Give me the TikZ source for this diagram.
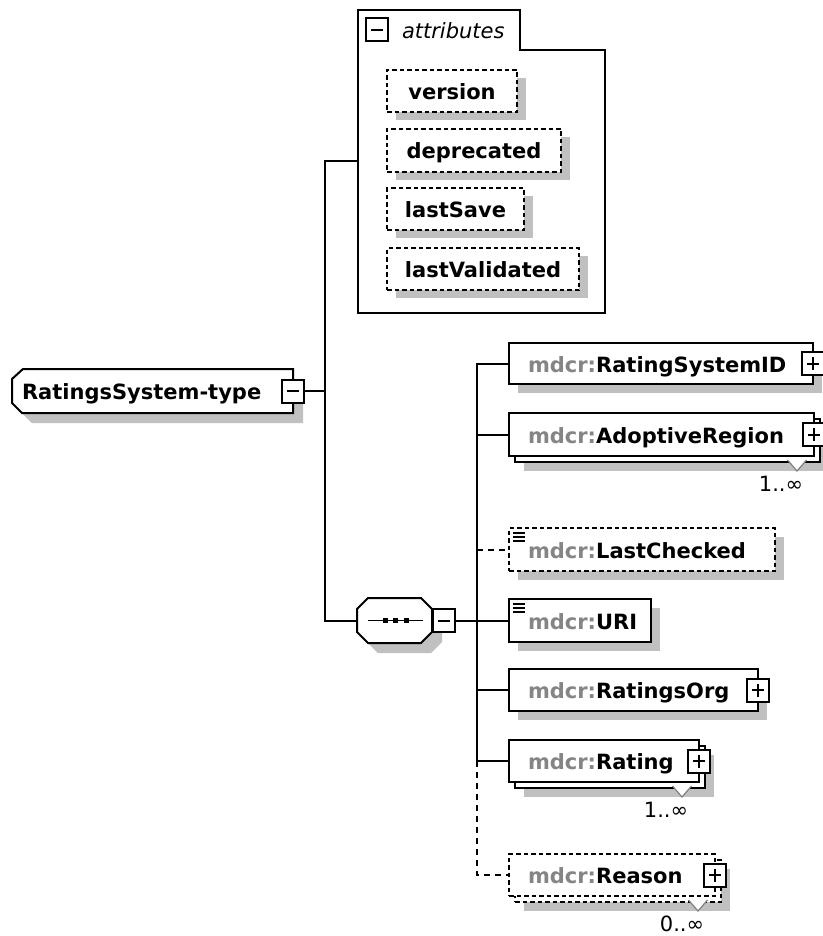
\documentclass[tikz,border=0pt]{standalone}
\usepackage{fontspec}
\setmainfont{DejaVu Sans}
\usetikzlibrary{calc,shadows}

\definecolor{shadowgray}{HTML}{C0C0C0}
\definecolor{prefixgray}{HTML}{858585}
\definecolor{markgray}{HTML}{808080}
\newcommand\pfx[1]{\textcolor{prefixgray}{#1}}

\tikzset{
  every node/.style={outer sep=0pt},
  ln/.style={line width=2pt},
  dsh/.style={dash pattern=on 4.5pt off 3pt},
  wiredsh/.style={dash pattern=on 6pt off 5pt},
  frame/.style={draw, ln, fill=white, inner sep=0pt, anchor=north west},
  hold/.style={inner sep=0pt, anchor=north west},
  shd/.style={general shadow={fill=shadowgray, shadow xshift=9pt, shadow yshift=-9pt}},
  shdattr/.style={general shadow={fill=shadowgray, shadow xshift=9pt, shadow yshift=-8pt}},
  shdbig/.style={general shadow={fill=shadowgray, shadow xshift=10pt, shadow yshift=-10pt}},
  btn/.style={draw, ln, fill=white, inner sep=0pt, minimum width=22pt, minimum height=23pt},
  minusbtn/.style={btn, path picture={
      \draw[ln] ([xshift=5pt]path picture bounding box.west) -- ([xshift=-5pt]path picture bounding box.east);}},
  plusbtn/.style={btn, path picture={
      \draw[ln] ([xshift=5pt]path picture bounding box.west) -- ([xshift=-5pt]path picture bounding box.east);
      \draw[ln] ([yshift=-5pt]path picture bounding box.north) -- ([yshift=5pt]path picture bounding box.south);}},
  lbl/.style={inner sep=0pt, anchor=base west, font=\bfseries\fontsize{21}{24}\selectfont},
  attrlbl/.style={inner sep=0pt, anchor=base, font=\bfseries\fontsize{21}{24}\selectfont},
  mult/.style={inner sep=0pt, anchor=base, font=\fontsize{21}{24}\selectfont},
}

% occurrence mark (small V under a repeated element) and its range text
\newcommand\multmark[2]{%
  \coordinate (#1-v) at ($(#1.south east)+(-17,15)$);
  \fill[white] ($(#1-v)+(-9.5,-11)$) -- (#1-v) -- ($(#1-v)+(9.5,-11)$) -- cycle;
  \draw[markgray, line width=1.2pt] ($(#1-v)+(-9.5,-11)$) -- (#1-v) -- ($(#1-v)+(9.5,-11)$);
  \node[mult] (#1-m) at ($(#1-v)+(-16,20.5)$) {#2};}

% the "simple content" icon in the top left corner of an element box
\newcommand\textmark[1]{%
  \foreach \dy in {5,9,13}
    \draw[line width=1.3pt] ($(#1.north west)+(4,\dy)$) -- ++(12,0);}

\begin{document}
\begin{tikzpicture}[x=1pt,y=-1pt]
  \fill[white] (0,0) rectangle (822,936);
  \useasboundingbox (0,0) rectangle (822,936);

  % ---- complex type ----
  \draw[ln, fill=white, shdbig] (23,369) -- (293,369) -- (293,413) -- (22,413)
        -- (12,403) -- (12,379) -- cycle;
  \node[hold, minimum width=281pt, minimum height=44pt] (main) at (12,369) {};
  \node[lbl] (main-t) at (22,399) {RatingsSystem-type};
  \node[minusbtn] (main-b) at (main.east) {};

  % ---- attribute group ----
  \draw[ln, fill=white] (358,10) -- (520,10) -- (520,50) -- (605,50) -- (605,313)
        -- (358,313) -- cycle;
  \node[hold, minimum width=247pt, minimum height=303pt] (attrs) at (358,10) {};
  \node[minusbtn] (attrs-b) at (377,30) {};
  \node[inner sep=0pt, anchor=base west, font=\itshape\fontsize{21}{24}\selectfont]
       (attrs-t) at (402,39) {attributes};

  \node[frame, dsh, shdattr, minimum width=130pt, minimum height=42pt] (version) at (387,70) {};
  \node[attrlbl] (version-t) at ($(version.center)+(0,8.5)$) {version};
  \node[frame, dsh, shdattr, minimum width=174pt, minimum height=43pt] (deprecated) at (387,129) {};
  \node[attrlbl] (deprecated-t) at ($(deprecated.center)+(0,8.5)$) {deprecated};
  \node[frame, dsh, shdattr, minimum width=137pt, minimum height=42pt] (lastsave) at (387,188) {};
  \node[attrlbl] (lastsave-t) at ($(lastsave.center)+(0,8.5)$) {lastSave};
  \node[frame, dsh, shdattr, minimum width=192pt, minimum height=42pt] (lastvalid) at (387,248) {};
  \node[attrlbl] (lastvalid-t) at ($(lastvalid.center)+(0,8.5)$) {lastValidated};

  % ---- sequence compositor ----
  \draw[ln, fill=white, shdbig] (368,598) -- (421,598) -- (432,609) -- (432,632)
        -- (421,643) -- (368,643) -- (357,632) -- (357,609) -- cycle;
  \node[hold, minimum width=75pt, minimum height=45pt] (seq) at (357,598) {};
  \draw[line width=1.6pt] (368,620.5) -- (423,620.5);
  \foreach \cx in {385,395.5,406}
    \fill (\cx-2.5,618) rectangle ++(5,5);
  \node[minusbtn] (seq-b) at ($(seq.east)+(12,0)$) {};

  % ---- child elements ----
  \node[frame, shd, minimum width=304pt, minimum height=41pt] (rsid) at (509,343) {};
  \node[lbl] (rsid-t) at ($(rsid.west)+(19,8.5)$) {\pfx{mdcr:}RatingSystemID};
  \node[plusbtn] (rsid-b) at (rsid.east) {};

  \node[frame, shd, minimum width=305pt, minimum height=43pt] (adopt-back) at (515,419) {};
  \node[frame, minimum width=305pt, minimum height=43pt] (adopt) at (509,413) {};
  \node[lbl] (adopt-t) at ($(adopt.west)+(19,8.5)$) {\pfx{mdcr:}AdoptiveRegion};
  \node[plusbtn] (adopt-b) at (adopt.east) {};
  \multmark{adopt}{1..∞}

  \node[frame, dsh, shd, minimum width=266pt, minimum height=43pt] (lastchk) at (509,528) {};
  \textmark{lastchk}
  \node[lbl] (lastchk-t) at ($(lastchk.west)+(19,8.5)$) {\pfx{mdcr:}LastChecked};

  \node[frame, shd, minimum width=142pt, minimum height=43pt] (uri) at (509,599) {};
  \textmark{uri}
  \node[lbl] (uri-t) at ($(uri.west)+(19,8.5)$) {\pfx{mdcr:}URI};

  \node[frame, shd, minimum width=249pt, minimum height=42pt] (org) at (509,669) {};
  \node[lbl] (org-t) at ($(org.west)+(19,8.5)$) {\pfx{mdcr:}RatingsOrg};
  \node[plusbtn] (org-b) at (org.east) {};

  \node[frame, shd, minimum width=190pt, minimum height=42pt] (rating-back) at (515,746) {};
  \node[frame, minimum width=190pt, minimum height=42pt] (rating) at (509,740) {};
  \node[lbl] (rating-t) at ($(rating.west)+(19,8.5)$) {\pfx{mdcr:}Rating};
  \node[plusbtn] (rating-b) at (rating.east) {};
  \multmark{rating}{1..∞}

  \node[frame, dsh, shd, minimum width=206pt, minimum height=42pt] (reason-back) at (515,860) {};
  \node[frame, dsh, minimum width=206pt, minimum height=42pt] (reason) at (509,854) {};
  \node[lbl] (reason-t) at ($(reason.west)+(19,8.5)$) {\pfx{mdcr:}Reason};
  \node[plusbtn] (reason-b) at (reason.east) {};
  \multmark{reason}{0..∞}

  % ---- connectors ----
  \coordinate (t1) at (325,0);
  \coordinate (t2) at (477,0);
  \draw[ln] (main-b.east) -- (t1 |- main-b.east);
  \draw[ln] (attrs.west) -- (t1 |- attrs.west) -- (t1 |- seq.west) -- (seq.west);
  \draw[ln] (seq-b.east) -- (uri.west);
  \draw[ln] (rsid.west) -- (t2 |- rsid.west) -- (t2 |- rating.west) -- (rating.west);
  \draw[ln] (t2 |- adopt.west) -- (adopt.west);
  \draw[ln] (t2 |- org.west) -- (org.west);
  \draw[ln, wiredsh] (t2 |- lastchk.west) -- (lastchk.west);
  \draw[ln, wiredsh] (t2 |- rating.west) -- (t2 |- reason.west) -- (reason.west);
\end{tikzpicture}
\end{document}
